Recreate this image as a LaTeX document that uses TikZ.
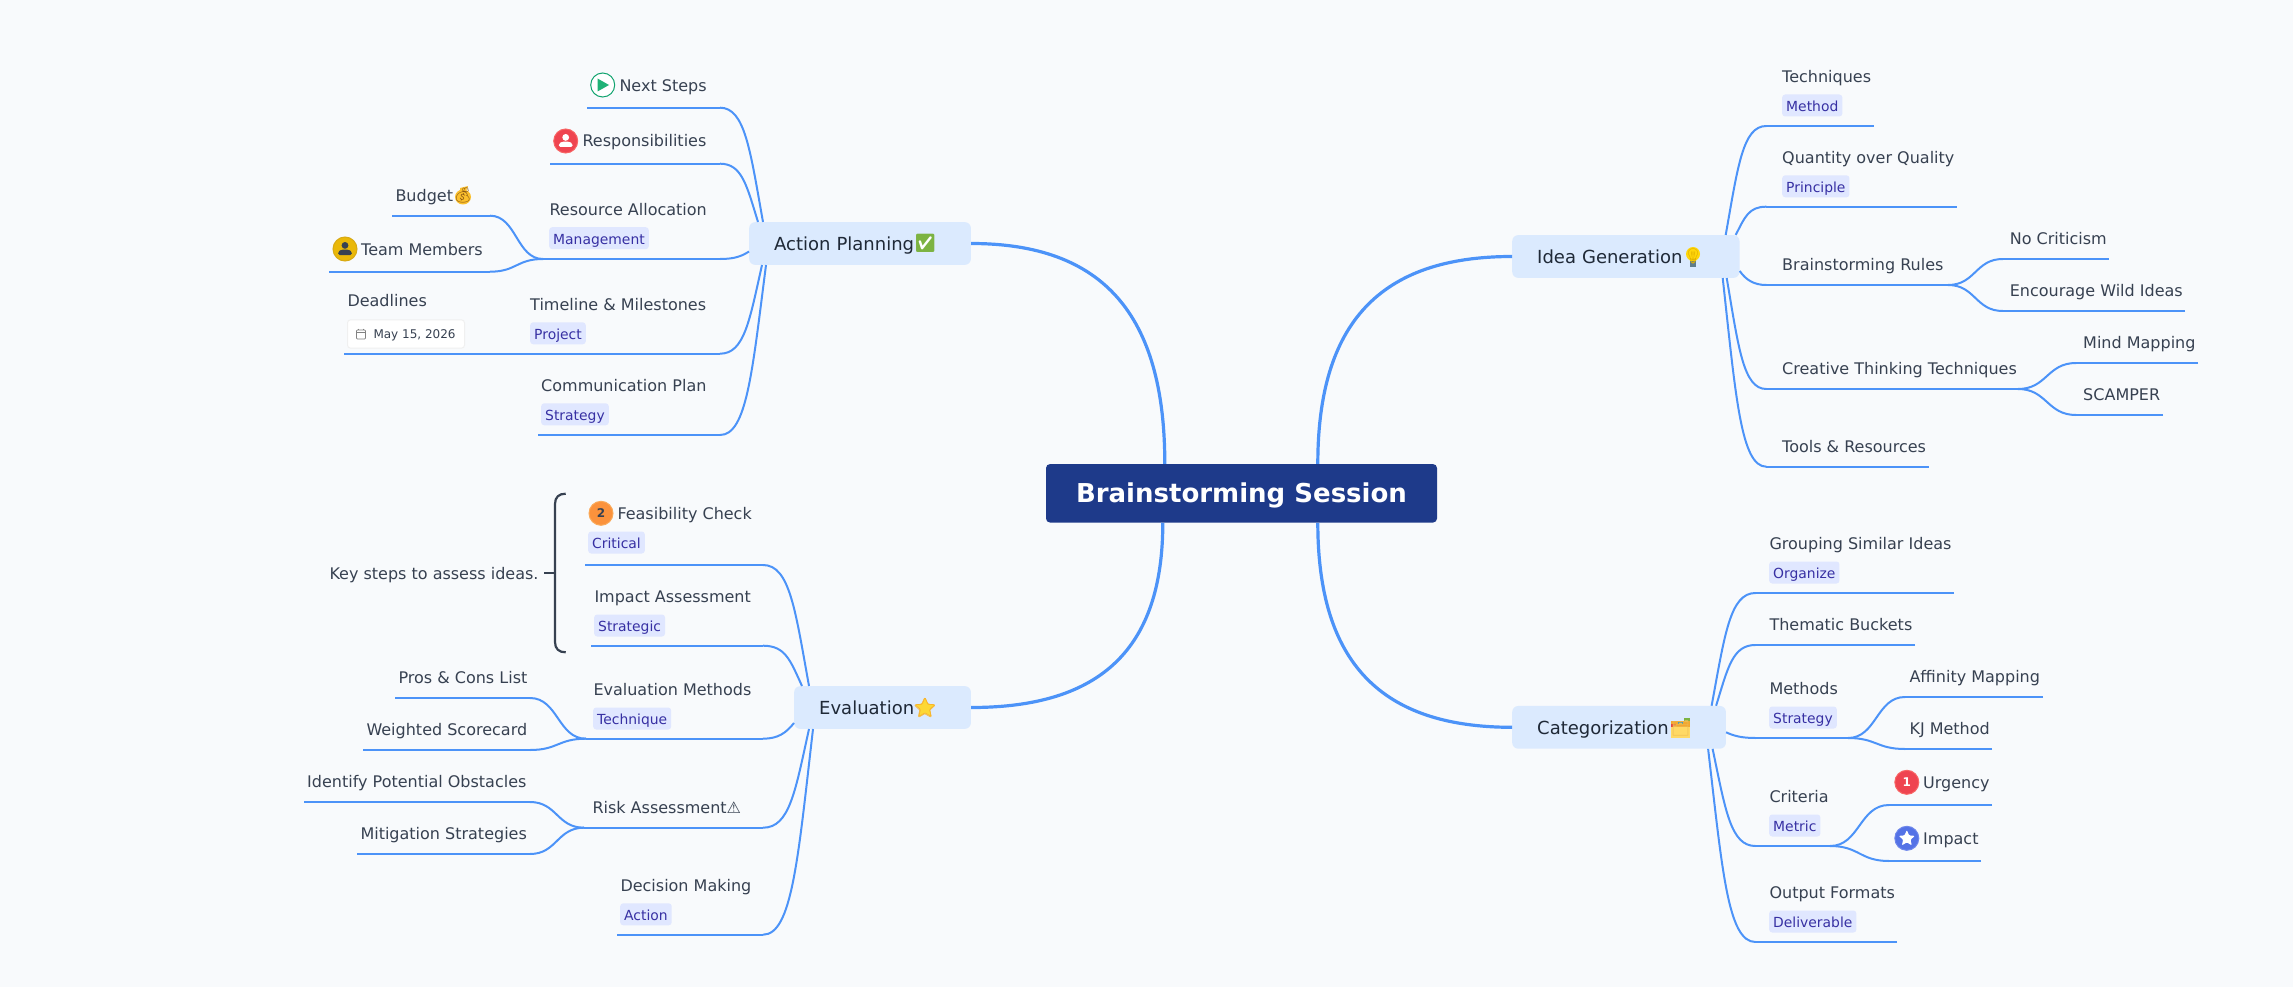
\documentclass[tikz,border=0pt]{standalone}
\usepackage{fontspec}
\setmainfont{DejaVu Sans}
\newfontfamily\emofont{Noto Emoji}
\usetikzlibrary{calc,shapes.geometric}
\definecolor{bgc}{HTML}{F8FAFC}
\definecolor{linkc}{HTML}{4C93F8}
\definecolor{rootc}{HTML}{1E3A8A}
\definecolor{boxc}{HTML}{DBEAFE}
\definecolor{boxt}{HTML}{1F2937}
\definecolor{lblt}{HTML}{374151}
\definecolor{tagc}{HTML}{E0E7FF}
\definecolor{tagt}{HTML}{3730A3}
\definecolor{emgreen}{HTML}{7CB342}
\definecolor{emstar}{HTML}{FDD835}
\definecolor{emstarb}{HTML}{F9B428}
\definecolor{embulb}{HTML}{FFD60A}
\definecolor{embulbd}{HTML}{E0B000}
\definecolor{embase}{HTML}{607D8B}
\definecolor{emfold}{HTML}{FFD966}
\definecolor{emfoldo}{HTML}{F2A730}
\definecolor{emfoldd}{HTML}{EDBB50}
\definecolor{emred}{HTML}{E5483C}
\definecolor{emblue}{HTML}{2996C8}
\definecolor{embag}{HTML}{FBC02D}
\definecolor{embagd}{HTML}{8C5A14}
\definecolor{playb}{HTML}{10A36E}
\definecolor{playf}{HTML}{20B276}
\definecolor{redf}{HTML}{EF4450}
\definecolor{redb}{HTML}{F86464}
\definecolor{yelf}{HTML}{EAB808}
\definecolor{yelb}{HTML}{D8AA14}
\definecolor{oraf}{HTML}{FB923C}
\definecolor{orab}{HTML}{FAAA5A}
\definecolor{bluf}{HTML}{5472E6}
\definecolor{blub}{HTML}{6E87EB}
\definecolor{calb}{HTML}{828282}
\definecolor{dateb}{HTML}{F0F0F0}
\tikzset{
  x=1pt,y=-1pt,
  mainlink/.style={draw=linkc,line width=3.2pt},
  sublink/.style={draw=linkc,line width=2pt},
  rootnode/.style={fill=rootc,rounded corners=4pt,text=white,inner sep=0,minimum width=391pt,minimum height=58.5pt,font=\fontsize{26}{30}\bfseries\selectfont,text height=19pt,text depth=0pt},
  mainbox/.style={fill=boxc,rounded corners=6pt,text=boxt,inner xsep=25pt,inner ysep=0,minimum height=42.7pt,align=left,anchor=west,font=\fontsize{18}{22}\selectfont,text height=13.5pt,text depth=0pt},
  lbl/.style={anchor=west,inner sep=0,text=lblt,font=\fontsize{16}{18}\selectfont,text height=12pt,text depth=0pt},
  tagn/.style={anchor=west,fill=tagc,rounded corners=3pt,text=tagt,inner xsep=4pt,inner ysep=0,minimum height=22pt,font=\fontsize{13.9}{17}\selectfont,text height=11.6pt,text depth=0pt},
  emo/.style={inner sep=0,font=\fontsize{17}{20}\emofont\selectfont},
  iconc/.style={circle,inner sep=0,minimum size=24pt,line width=1pt},
  numt/.style={inner sep=0,font=\fontsize{12}{14}\bfseries\selectfont},
}
\newcommand{\branchL}[2]{\draw[sublink] let \p1=(#1),\p2=(#2) in (\p1) .. controls (\x1*0.42+\x2*0.58,\y1) and (\x1*0.3+\x2*0.7,\y1*0.63+\y2*0.37) .. (\p2);}
\newcommand{\scurve}[2]{\draw[sublink] let \p1=(#1),\p2=(#2) in (\p1) .. controls (\x1*0.5+\x2*0.5,\y1) and (\x1*0.5+\x2*0.5,\y2) .. (\p2);}
\newcommand{\mainc}[2]{\draw[mainlink] let \p1=(#1),\p2=(#2) in (\p1) .. controls (\x1,\y1*0.32+\y2*0.68) and (\x1*0.68+\x2*0.32,\y2) .. (\p2);}
\newcommand{\personicon}[6]{%
  \node[iconc,fill=#4,draw=#5] (#1) at (#2,#3) {};
  \fill[#6] (#2,#3-3.6) circle (3.4pt);
  \fill[#6,rounded corners=1.5pt] (#2-6.8,#3+6) -- (#2-6.8,#3+2.6) -- (#2-3.5,#3+0.6) -- (#2+3.5,#3+0.6) -- (#2+6.8,#3+2.6) -- (#2+6.8,#3+6) -- cycle;}
\begin{document}
\begin{tikzpicture}
\useasboundingbox (0,0) rectangle (2293,987);
\fill[bgc] (0,0) rectangle (2293,987);

% ---- nodes that connectors attach to
\node[rootnode] (root) at (1241.5,493.3) {Brainstorming Session};
\node[mainbox,text width=171.7pt] (ap) at (749,243.5) {\mbox{Action Planning}};
\node[mainbox,text width=126.7pt] (ev) at (794,707.5) {\mbox{Evaluation}};
\node[mainbox,text width=177.3pt] (ig) at (1512,256.5) {\mbox{Idea Generation}};
\node[mainbox,text width=163.7pt] (ca) at (1512,727.3) {\mbox{Categorization}};

% ---- named ends of the branch lines
\foreach \n/\x/\y in {
 a1/587/107.7,a1j/720/107.7,a2/550/163.7,a2j/720/163.7,a3/543/259,a3j/720/259,a4/344/353.7,a4j/720/353.7,a5/538/435,a5j/720/435,
 a31/392/215.7,a31j/490/215.7,a32/329/271.7,a32j/490/271.7,
 e1/585/565,e1j/763/565,e2/591/645.7,e2j/763/645.7,e3/586/738.7,e3j/763/738.7,e4/584/827.7,e4j/763/827.7,e5/617/934.7,e5j/763/934.7,
 e31/395/698,e31j/530/698,e32/363/750,e32j/530/750,e41/304/802,e41j/530/802,e42/357/854,e42j/530/854,
 i1/1873.7/126,i1j/1766.3/126,i2/1956.8/206.7,i2j/1766.3/206.7,i3/1948/285,i3j/1766.3/285,i4/2018/389,i4j/1766.3/389,i5/1928.8/466.7,i5j/1766.3/466.7,
 i31/2108.8/259,i31j/2002.8/259,i32/2185/311,i32j/2002.8/311,i41/2198/363,i41j/2076/363,i42/2163/415,i42j/2076/415,
 c1/1954/593,c1j/1755.4/593,c2/1915/645,c2j/1755.4/645,c3/1848/738,c3j/1755.4/738,c4/1830/846,c4j/1755.4/846,c5/1897/942,c5j/1755.4/942,
 c31/2043/697,c31j/1905/697,c32/1992/749,c32j/1905/749,c41/1992/805,c41j/1889/805,c42/1981/861,c42j/1889/861}
 {\coordinate (\n) at (\x,\y);}

% ---- main connectors
\mainc{$(root.north west)+(119,0)$}{$(ap.east)$}
\mainc{$(root.south west)+(117,0)$}{$(ev.east)$}
\mainc{$(root.north west)+(272,0)$}{$(ig.west)$}
\mainc{$(root.south west)+(272,0)$}{$(ca.west)$}

% ---- Action Planning branches
\draw[sublink] (a1) -- (a1j); \branchL{a1j}{$(ap.north west)+(14,0)$}
\draw[sublink] (a2) -- (a2j); \branchL{a2j}{$(ap.north west)+(9,0)$}
\draw[sublink] (a3) -- (a3j); \draw[sublink] (a3j) .. controls (735,259) and (742,256) .. ($(ap.west)+(0,8)$);
\draw[sublink] (a4) -- (a4j); \branchL{a4j}{$(ap.south west)+(13,0)$}
\draw[sublink] (a5) -- (a5j); \branchL{a5j}{$(ap.south west)+(17,0)$}
\draw[sublink] (a31) -- (a31j); \scurve{a31j}{a3}
\draw[sublink] (a32) -- (a32j); \scurve{a32j}{a3}

% ---- Evaluation branches
\draw[sublink] (e1) -- (e1j); \branchL{e1j}{$(ev.north west)+(15,0)$}
\draw[sublink] (e2) -- (e2j); \branchL{e2j}{$(ev.north west)+(8,0)$}
\draw[sublink] (e3) -- (e3j); \draw[sublink] (e3j) .. controls (778,738.7) and (786,733) .. ($(ev.west)+(0,15.5)$);
\draw[sublink] (e4) -- (e4j); \branchL{e4j}{$(ev.south west)+(15,0)$}
\draw[sublink] (e5) -- (e5j); \branchL{e5j}{$(ev.south west)+(19,0)$}
\draw[sublink] (e31) -- (e31j); \scurve{e31j}{e3}
\draw[sublink] (e32) -- (e32j); \scurve{e32j}{e3}
\draw[sublink] (e41) -- (e41j); \scurve{e41j}{e4}
\draw[sublink] (e42) -- (e42j); \scurve{e42j}{e4}

% ---- Idea Generation branches
\draw[sublink] (i1) -- (i1j); \branchL{i1j}{$(ig.north east)+(-14,0)$}
\draw[sublink] (i2) -- (i2j); \branchL{i2j}{$(ig.north east)+(-4,0)$}
\draw[sublink] (i3) -- (i3j); \draw[sublink] (i3j) .. controls (1754,285) and (1746,280) .. ($(ig.east)+(0,14.5)$);
\draw[sublink] (i4) -- (i4j); \branchL{i4j}{$(ig.south east)+(-13,0)$}
\draw[sublink] (i5) -- (i5j); \branchL{i5j}{$(ig.south east)+(-17,0)$}
\draw[sublink] (i31) -- (i31j); \scurve{i31j}{i3}
\draw[sublink] (i32) -- (i32j); \scurve{i32j}{i3}
\draw[sublink] (i41) -- (i41j); \scurve{i41j}{i4}
\draw[sublink] (i42) -- (i42j); \scurve{i42j}{i4}

% ---- Categorization branches
\draw[sublink] (c1) -- (c1j); \branchL{c1j}{$(ca.north east)+(-14.5,0)$}
\draw[sublink] (c2) -- (c2j); \branchL{c2j}{$(ca.north east)+(-10,0)$}
\draw[sublink] (c3) -- (c3j); \draw[sublink] (c3j) .. controls (1742,738) and (1734,736) .. ($(ca.east)+(0,5)$);
\draw[sublink] (c4) -- (c4j); \branchL{c4j}{$(ca.south east)+(-13.5,0)$}
\draw[sublink] (c5) -- (c5j); \branchL{c5j}{$(ca.south east)+(-18,0)$}
\draw[sublink] (c31) -- (c31j); \scurve{c31j}{c3}
\draw[sublink] (c32) -- (c32j); \scurve{c32j}{c3}
\draw[sublink] (c41) -- (c41j); \scurve{c41j}{c4}
\draw[sublink] (c42) -- (c42j); \scurve{c42j}{c4}

% ---- emoji of the main boxes
\fill[rounded corners=2.5pt,fill=white] (917,235) rectangle (933.7,252);
\node[emo,text=emgreen,font=\fontsize{18}{21}\emofont\selectfont] (apE) at (925.3,243.5) {✅};
\node[star,star points=5,star point ratio=2.2,fill=emstar,draw=emstarb,line width=0.6pt,rounded corners=1pt,inner sep=0,minimum size=21pt] (evS) at (925,708) {};
\node[emo,text=emstarb,font=\fontsize{19}{22}\emofont\selectfont] (evE) at (925,707.5) {⭐};
\fill[embulb] (1693,254) circle (7pt);
\fill[embulb] (1689.5,254) -- (1696.5,254) -- (1696,261) -- (1690,261) -- cycle;
\fill[embase] (1689.8,261) rectangle (1696.2,266.7);
\node[emo,text=embulbd,font=\fontsize{15}{18}\emofont\selectfont] (igE) at (1693,256.7) {💡};
\fill[emfold] (1671,722) rectangle (1690,738.3);
\fill[emfoldo] (1671,721) rectangle (1690,727);
\fill[emgreen] (1684,717.7) rectangle (1689.5,721);
\fill[emred] (1671,724) rectangle (1675.5,727);
\fill[emblue] (1677.5,721.5) rectangle (1682.5,723.5);
\node[emo,text=emfoldd,font=\fontsize{15}{18}\emofont\selectfont] (caE) at (1680.5,728) {🗂};

% ---- Action Planning labels
\node[iconc,draw=playb,fill=white] (ns) at (602.7,85) {};
\fill[playf] (597.5,78.5) -- (609,85) -- (597.5,91.5) -- cycle;
\node[lbl] (nsT) at (619.3,85.3) {Next Steps};
\personicon{rs}{565.7}{141}{redf}{redb}{white}
\node[lbl] (rsT) at (582.3,141) {Responsibilities};
\node[lbl] (raT) at (549.3,209) {Resource Allocation};
\node[tagn] (raG) at (549,238.2) {Management};
\node[lbl] (tmT) at (530,304) {Timeline \& Milestones};
\node[tagn] (tmG) at (530,333.3) {Project};
\node[lbl] (cpT) at (541,385) {Communication Plan};
\node[tagn] (cpG) at (541,414.3) {Strategy};
\node[lbl] (buT) at (395.3,195) {Budget};
\fill[embag] (463,197) ellipse (8pt and 7.5pt);
\fill[embag] (460,188) -- (468,186) -- (466,191) -- (460,192) -- cycle;
\node[emo,text=embagd,font=\fontsize{15}{18}\emofont\selectfont] (buE) at (463,195) {💰};
\personicon{tmi}{345}{249}{yelf}{yelb}{lblt}
\node[lbl] (tmiT) at (361,249) {Team Members};
\node[lbl] (dlT) at (347.3,300) {Deadlines};
\node[anchor=west,fill=white,draw=dateb,line width=1pt,rounded corners=3pt,minimum width=117pt,minimum height=28.3pt,inner sep=0] (dlB) at (347,334) {};
\draw[draw=calb,line width=0.7pt,rounded corners=0.8pt] (356.5,330) rectangle (365.5,339);
\draw[draw=calb,line width=0.7pt] (356.5,332.8) -- (365.5,332.8) (358.8,328.6) -- (358.8,330) (363.2,328.6) -- (363.2,330);
\node[anchor=west,inner sep=0,text=lblt,font=\fontsize{12}{14}\selectfont,text height=9pt,text depth=0pt] (dlD) at (373.3,334) {May 15, 2026};

% ---- Evaluation labels
\node[iconc,fill=oraf,draw=orab] (fci) at (601,513.3) {};
\node[numt,text=lblt] (fcN) at (601,513.3) {2};
\node[lbl] (fcT) at (617.3,513.3) {Feasibility Check};
\node[tagn] (fcG) at (588,542.5) {Critical};
\node[lbl] (iaT) at (594.3,596.3) {Impact Assessment};
\node[tagn] (iaG) at (594,625.5) {Strategic};
\node[lbl] (emT) at (593.3,689.3) {Evaluation Methods};
\node[tagn] (emG) at (593,718.5) {Technique};
\node[lbl] (rkT) at (592.3,807.3) {Risk Assessment⚠};
\node[lbl] (dmT) at (620.3,885.3) {Decision Making};
\node[tagn] (dmG) at (620,914.3) {Action};
\node[lbl] (ppT) at (398.3,677.3) {Pros \& Cons List};
\node[lbl] (wsT) at (366.3,729.3) {Weighted Scorecard};
\node[lbl] (ipT) at (307,781.3) {Identify Potential Obstacles};
\node[lbl] (msT) at (360.3,833.3) {Mitigation Strategies};
\node[lbl] (ksT) at (329.3,573.3) {Key steps to assess ideas.};
\coordinate (brT) at (565.7,493.7);
\coordinate (brB) at (565.7,652.3);
\coordinate (brM) at (544,573);
\draw[lblt,line width=2.2pt] (brT) .. controls (559,493.7) and (555,497) .. (555,504) -- (555,642) .. controls (555,649) and (559,652.3) .. (brB);
\draw[lblt,line width=2.2pt] (brM) -- (555,573);

% ---- Idea Generation labels
\node[lbl] (tqT) at (1782,76.3) {Techniques};
\node[tagn] (tqG) at (1782,105.5) {Method};
\node[lbl] (qqT) at (1782,157.3) {Quantity over Quality};
\node[tagn] (qqG) at (1782,186.3) {Principle};
\node[lbl] (brR) at (1782,264.3) {Brainstorming Rules};
\node[lbl] (ctT) at (1782,368.3) {Creative Thinking Techniques};
\node[lbl] (trT) at (1782,446.3) {Tools \& Resources};
\node[lbl] (ncT) at (2009.6,238.3) {No Criticism};
\node[lbl] (ewT) at (2009.6,290.3) {Encourage Wild Ideas};
\node[lbl] (mmT) at (2083,342.3) {Mind Mapping};
\node[lbl] (scT) at (2083,394.3) {SCAMPER};

% ---- Categorization labels
\node[lbl] (gsT) at (1769.3,543.3) {Grouping Similar Ideas};
\node[tagn] (gsG) at (1769,572.5) {Organize};
\node[lbl] (tbT) at (1769.3,624.3) {Thematic Buckets};
\node[lbl] (meT) at (1769.3,688.3) {Methods};
\node[tagn] (meG) at (1769,717.5) {Strategy};
\node[lbl] (crT) at (1769.3,796.3) {Criteria};
\node[tagn] (crG) at (1769,825.5) {Metric};
\node[lbl] (ofT) at (1769.3,892.3) {Output Formats};
\node[tagn] (ofG) at (1769,921.5) {Deliverable};
\node[lbl] (afT) at (1909.3,676.3) {Affinity Mapping};
\node[lbl] (kjT) at (1909.3,728.3) {KJ Method};
\node[iconc,fill=redf,draw=redb] (uri) at (1906.8,782.3) {};
\node[numt,text=white] (urN) at (1906.8,782.3) {1};
\node[lbl] (urT) at (1923,782.3) {Urgency};
\node[iconc,fill=bluf,draw=blub] (imi) at (1906.8,838.3) {};
\node[star,star points=5,star point ratio=2.2,fill=white,rounded corners=1pt,inner sep=0,minimum size=17pt] (imS) at (1906.8,838.5) {};
\node[lbl] (imT) at (1923,838.3) {Impact};
\end{tikzpicture}
\end{document}
